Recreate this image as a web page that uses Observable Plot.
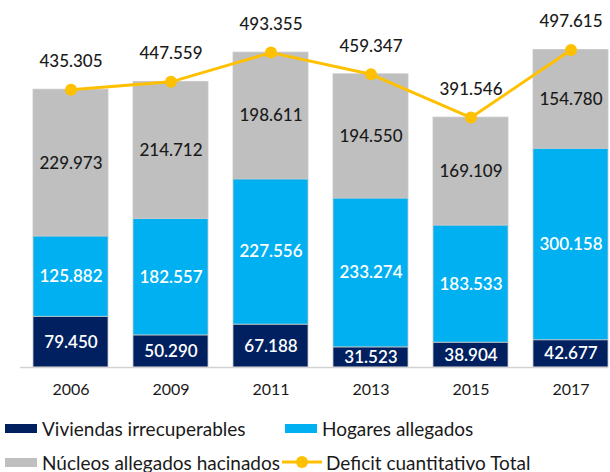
<!DOCTYPE html>
<html>
<head>
<meta charset="utf-8">
<script src="https://cdn.jsdelivr.net/npm/d3@7"></script>
<script src="https://cdn.jsdelivr.net/npm/@observablehq/plot@0.6"></script>
<style>
  html, body { margin: 0; padding: 0; background: #fff; }
  body { font-family: Lato, "Open Sans", sans-serif; width: 610px; height: 472px; overflow: hidden; }
  #wrap { position: relative; width: 610px; height: 472px; }
  #legend { position: absolute; left: 0; top: 405px; width: 610px; height: 67px; }
  .item { position: absolute; display: flex; align-items: center; height: 22px; font-size: 19px; color: #1a1a1a; white-space: nowrap; }
  .sw { display: inline-block; width: 32px; height: 9px; margin-right: 5px; }
</style>
</head>
<body>
<div id="wrap"><div id="chart"></div><div id="legend"></div></div>
<script>
const years = ["2006", "2009", "2011", "2013", "2015", "2017"];
const viviendas = [79450, 50290, 67188, 31523, 38904, 42677];
const hogares = [125882, 182557, 227556, 233274, 183533, 300158];
const nucleos = [229973, 214712, 198611, 194550, 169109, 154780];
const totales = [435305, 447559, 493355, 459347, 391546, 497615];
const seriesNames = ["Viviendas irrecuperables", "Hogares allegados", "Núcleos allegados hacinados"];
const lineName = "Deficit cuantitativo Total";
const colors = ["#002060", "#00B0F0", "#BFBFBF"];
const lineColor = "#FFC000";

const fmt = v => d3.format(",")(v).replace(/,/g, ".");

const table = [];
[viviendas, hogares, nucleos].forEach((arr, si) => {
  arr.forEach((v, i) => table.push({year: years[i], series: seriesNames[si], value: v}));
});
const totalData = years.map((y, i) => ({year: y, total: totales[i]}));

const chart = Plot.plot({
  width: 610,
  height: 405,
  marginLeft: 20,
  marginRight: 2,
  marginTop: 0,
  marginBottom: 38,
  style: {fontFamily: "Lato, 'Open Sans', sans-serif", background: "#fff"},
  x: {domain: years, paddingInner: 0.25, paddingOuter: 0.065, align: 1, label: null, tickSize: 0, tickPadding: 16},
  y: {domain: [0, 575000], axis: null},
  color: {domain: seriesNames, range: colors},
  marks: [
    Plot.barY(table, {x: "year", y: "value", fill: "series", stroke: "#c8c8c8", strokeWidth: 0.8}),
    Plot.ruleY([0], {stroke: "#d3d3d3", strokeWidth: 1.5}),
    Plot.text(table, Plot.stackY({x: "year", y: "value", text: d => d.series === seriesNames[2] ? "" : fmt(d.value), fill: "white", fontSize: 17, fontWeight: 600})),
    Plot.text(table, Plot.stackY({x: "year", y: "value", text: d => d.series === seriesNames[2] ? fmt(d.value) : "", fill: "#1a1a1a", fontSize: 17, fontWeight: 500})),
    Plot.line(totalData, {x: "year", y: "total", stroke: lineColor, strokeWidth: 3}),
    Plot.dot(totalData, {x: "year", y: "total", r: 6, fill: lineColor, stroke: "none"}),
    Plot.text(totalData, {x: "year", y: "total", text: d => fmt(d.total), dy: -28, fill: "#1a1a1a", fontSize: 17, fontWeight: 500}),
    Plot.axisX({tickSize: 0, tickPadding: 16, fontSize: 16, fill: "#1a1a1a"})
  ]
});
document.getElementById("chart").appendChild(chart);

// legend
const legend = document.getElementById("legend");
const items = [
  {label: seriesNames[0], color: colors[0], left: 5, cy: 23},
  {label: seriesNames[1], color: colors[1], left: 285, cy: 23},
  {label: seriesNames[2], color: colors[2], left: 5, cy: 57}
];
items.forEach(it => {
  const d = document.createElement("div");
  d.className = "item";
  d.style.left = it.left + "px";
  d.style.top = (it.cy - 11) + "px";
  d.innerHTML = `<span class="sw" style="background:${it.color}"></span><span>${it.label}</span>`;
  legend.appendChild(d);
});
const li = document.createElement("div");
li.className = "item";
li.style.left = "282px";
li.style.top = (57 - 11) + "px";
li.innerHTML = `<svg width="40" height="14" style="margin-right:4px"><line x1="0" y1="7" x2="40" y2="7" stroke="${lineColor}" stroke-width="3"/><circle cx="20" cy="7" r="6" fill="${lineColor}"/></svg><span>${lineName}</span>`;
legend.appendChild(li);
</script>
</body>
</html>
